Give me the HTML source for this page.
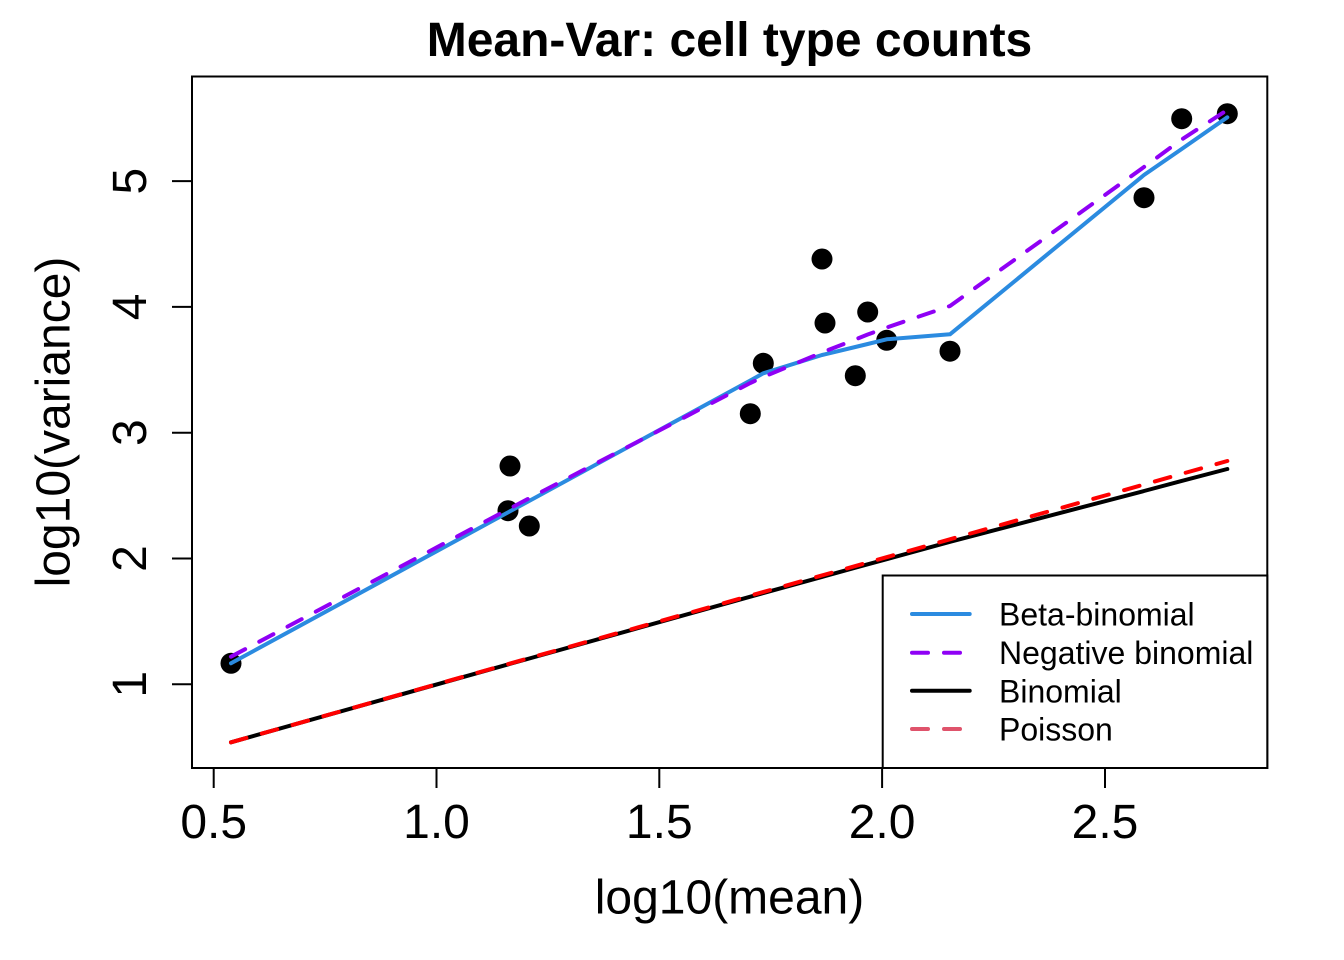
<!DOCTYPE html>
<html>
<head>
<meta charset="utf-8">
<style>
  html, body { margin: 0; padding: 0; background: #ffffff; }
  svg { display: block; }
</style>
</head>
<body>
<svg width="1344" height="960" viewBox="0 0 1344 960" xmlns="http://www.w3.org/2000/svg" font-family="'Liberation Sans', Arial, sans-serif">
  <rect x="0" y="0" width="1344" height="960" fill="#ffffff"/>

  <!-- Title -->
  <text x="729.5" y="56" font-size="48" font-weight="bold" text-anchor="middle" fill="#000">Mean-Var: cell type counts</text>

  <!-- Data points -->
  <g fill="#000">
    <circle cx="231" cy="663.3" r="10.5"/>
    <circle cx="508" cy="510.7" r="10.5"/>
    <circle cx="510" cy="466" r="10.5"/>
    <circle cx="529.3" cy="526" r="10.5"/>
    <circle cx="750.3" cy="413.7" r="10.5"/>
    <circle cx="763.3" cy="363.3" r="10.5"/>
    <circle cx="822" cy="259" r="10.5"/>
    <circle cx="825" cy="323" r="10.5"/>
    <circle cx="855.3" cy="375.7" r="10.5"/>
    <circle cx="867.7" cy="312" r="10.5"/>
    <circle cx="886.7" cy="340.3" r="10.5"/>
    <circle cx="950" cy="351.2" r="10.5"/>
    <circle cx="1144" cy="197.7" r="10.5"/>
    <circle cx="1181.7" cy="118.7" r="10.5"/>
    <circle cx="1227.3" cy="113.7" r="10.5"/>
  </g>

  <!-- Series lines -->
  <g fill="none" stroke-width="4" stroke-linecap="round" stroke-linejoin="round">
    <polyline stroke="#2B8BE0" points="231,663.3 508,512.4 510,511.3 529.3,500.9 750.3,380.5 763.3,373.3 822,355 825,354.3 855.3,347 867.7,344 886.7,339.3 950,334.3 1144,175 1181.7,149 1227.3,117.3"/>
    <polyline stroke="#8F00F5" stroke-dasharray="16 16" points="231,656.7 508,509.5 510,508.4 529.3,498.2 750.3,383 763.3,377 822,352.5 825,351.3 855.3,339.5 867.7,334.5 886.7,327.5 950,306 1144,167 1181.7,139.5 1227.3,110"/>
    <polyline stroke="#000000" points="231,742.3 508,664.4 510,663.8 529.3,658.5 750.3,596.7 763.3,593.1 822,576.9 825,576.1 855.3,567.7 867.7,564.3 886.7,559.2 950,541.8 1144,491 1181.7,480.9 1227.3,469"/>
    <polyline stroke="#FF0000" stroke-dasharray="16 16" points="231,742.3 1227.3,461"/>
  </g>

  <!-- Plot frame -->
  <rect x="192" y="76.5" width="1075.3" height="691.5" fill="none" stroke="#000" stroke-width="2"/>

  <!-- X axis ticks -->
  <g stroke="#000" stroke-width="2">
    <line x1="213.7" y1="768" x2="213.7" y2="788"/>
    <line x1="436.5" y1="768" x2="436.5" y2="788"/>
    <line x1="659.3" y1="768" x2="659.3" y2="788"/>
    <line x1="882.1" y1="768" x2="882.1" y2="788"/>
    <line x1="1105" y1="768" x2="1105" y2="788"/>
  </g>
  <g font-size="48" text-anchor="middle" fill="#000">
    <text x="213.7" y="838">0.5</text>
    <text x="436.5" y="838">1.0</text>
    <text x="659.3" y="838">1.5</text>
    <text x="882.1" y="838">2.0</text>
    <text x="1105" y="838">2.5</text>
  </g>

  <!-- Y axis ticks -->
  <g stroke="#000" stroke-width="2">
    <line x1="172" y1="684.3" x2="192" y2="684.3"/>
    <line x1="172" y1="558.5" x2="192" y2="558.5"/>
    <line x1="172" y1="432.7" x2="192" y2="432.7"/>
    <line x1="172" y1="306.9" x2="192" y2="306.9"/>
    <line x1="172" y1="181.1" x2="192" y2="181.1"/>
  </g>
  <g font-size="48" text-anchor="middle" fill="#000">
    <text transform="translate(146,684.3) rotate(-90)">1</text>
    <text transform="translate(146,558.5) rotate(-90)">2</text>
    <text transform="translate(146,432.7) rotate(-90)">3</text>
    <text transform="translate(146,306.9) rotate(-90)">4</text>
    <text transform="translate(146,181.1) rotate(-90)">5</text>
  </g>

  <!-- Axis labels -->
  <text x="729.5" y="913.5" font-size="48" text-anchor="middle" fill="#000">log10(mean)</text>
  <text transform="translate(69.5,422) rotate(-90)" font-size="48" text-anchor="middle" fill="#000">log10(variance)</text>

  <!-- Legend -->
  <rect x="882.7" y="575.5" width="384.6" height="192.5" fill="#ffffff" stroke="#000" stroke-width="2"/>
  <g fill="none" stroke-width="4" stroke-linecap="round">
    <line x1="912" y1="614" x2="969.7" y2="614" stroke="#2B8BE0"/>
    <line x1="912" y1="652.7" x2="969.7" y2="652.7" stroke="#8F00F5" stroke-dasharray="16 16"/>
    <line x1="912" y1="690.7" x2="969.7" y2="690.7" stroke="#000000"/>
    <line x1="912" y1="729" x2="969.7" y2="729" stroke="#DF536B" stroke-dasharray="16 16"/>
  </g>
  <g font-size="32" fill="#000">
    <text x="999" y="625.5">Beta-binomial</text>
    <text x="999" y="664.2">Negative binomial</text>
    <text x="999" y="702.3">Binomial</text>
    <text x="999" y="740.6">Poisson</text>
  </g>
</svg>
</body>
</html>
